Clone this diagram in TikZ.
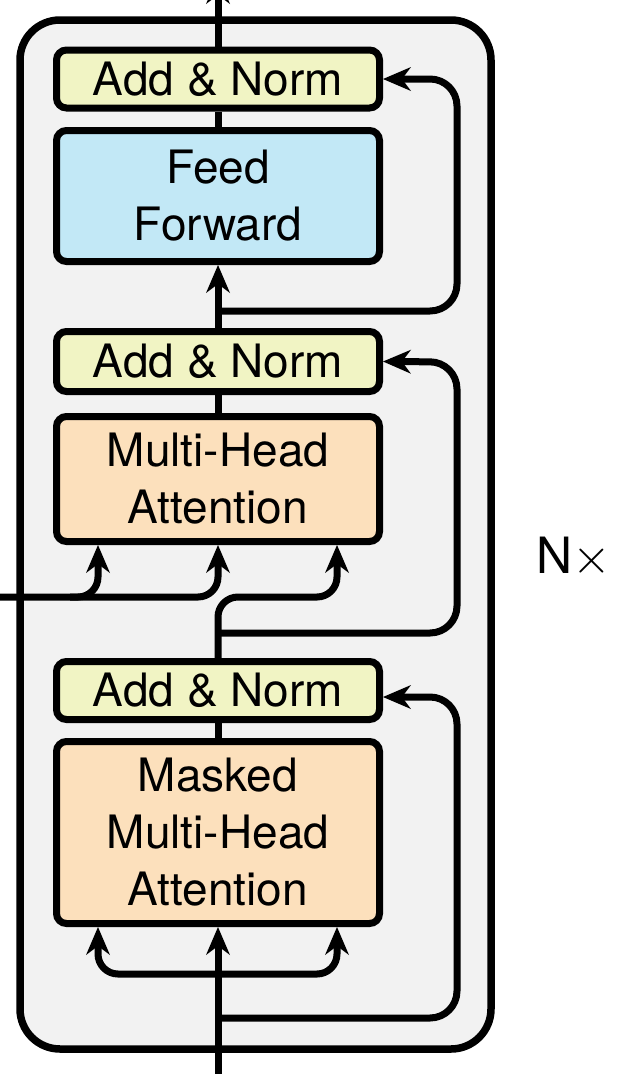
\documentclass[tikz,border=0pt]{standalone}
\usepackage{fontspec}
\setmainfont{TeX Gyre Heros}
\usetikzlibrary{arrows.meta,calc}
\definecolor{bgc}{RGB}{242,242,242}
\definecolor{anc}{RGB}{241,244,196}
\definecolor{ffc}{RGB}{194,232,246}
\definecolor{mhc}{RGB}{252,224,188}
\begin{document}
\begin{tikzpicture}[x=1pt,y=-1pt,
  blk/.style={draw, line width=7pt, rounded corners=10pt, minimum width=323pt, inner sep=0pt, align=center, font=\fontsize{46}{57}\selectfont},
  wire/.style={line width=7pt},
  arr/.style={wire, -{Stealth[length=28pt,width=24pt,inset=9pt,line width=0pt]}},
  arrtwo/.style={wire, {Stealth[length=28pt,width=24pt,inset=9pt,line width=0pt]}-{Stealth[length=28pt,width=24pt,inset=9pt,line width=0pt]}},
  rc/.style={rounded corners=27pt},
  rs/.style={rounded corners=20pt}]
\useasboundingbox (0,0) rectangle (620,1074);
\node[draw, line width=7.5pt, rounded corners=40pt, fill=bgc, minimum width=471pt, minimum height=1029pt, inner sep=0pt] (frame) at (255.5,534.5) {};

\node[blk, fill=anc, minimum height=58pt] (an1) at (218,79) {Add \& Norm};
\node[blk, fill=ffc, minimum height=131pt] (ff) at (218,196) {Feed\\Forward};
\node[blk, fill=anc, minimum height=60pt] (an2) at (218,361.5) {Add \& Norm};
\node[blk, fill=mhc, minimum height=125pt] (mha) at (218,479) {Multi-Head\\Attention};
\node[blk, fill=anc, minimum height=58pt] (an3) at (218,690.5) {Add \& Norm};
\node[blk, fill=mhc, minimum height=182pt] (mmha) at (218,832.5) {Masked\\Multi-Head\\Attention};
\node[font=\fontsize{50}{57}\selectfont, inner sep=0pt, anchor=base west] (nx) at (536,573) {N\scalebox{2}{$\times$}};

\coordinate (top) at (218,-24);
\coordinate (bot) at (218,1085);
\coordinate (L) at (-10,597);
\coordinate (j1) at (70,597);
\coordinate (r1) at (218,311);
\coordinate (r2) at (218,633);
\coordinate (r3) at (218,1018);

\draw[arr] (an1.north) -- (top);
\draw[wire] (an1.south) -- (ff.north);
\draw[arr] (an2.north) -- (ff.south);
\draw[arr, rc] (r1) -- (457,311) -- (457,79) -- (an1.east);

\draw[wire] (an2.south) -- (mha.north);
\draw[arr, rs] (L) -- (98,597) -- ($(mha.south)+(-120,0)$);
\draw[arr, rs] (j1) -- (218,597) -- (mha.south);
\draw[arr, rs] (an3.north) -- (218,597) -- (337,597) -- ($(mha.south)+(119,0)$);
\draw[arr, rc] (r2) -- (457,633) -- (457,362) -- (an2.east);

\draw[wire] (an3.south) -- (mmha.north);
\draw[arr] (bot) -- (mmha.south);
\draw[arr, rc] (r3) -- (457,1018) -- (457,697) -- ($(an3.east)+(0,6.5)$);
\draw[arrtwo, rs] ($(mmha.south)+(-120,0)$) -- (98,974) -- (337,974) -- ($(mmha.south)+(119,0)$);
\end{tikzpicture}
\end{document}
